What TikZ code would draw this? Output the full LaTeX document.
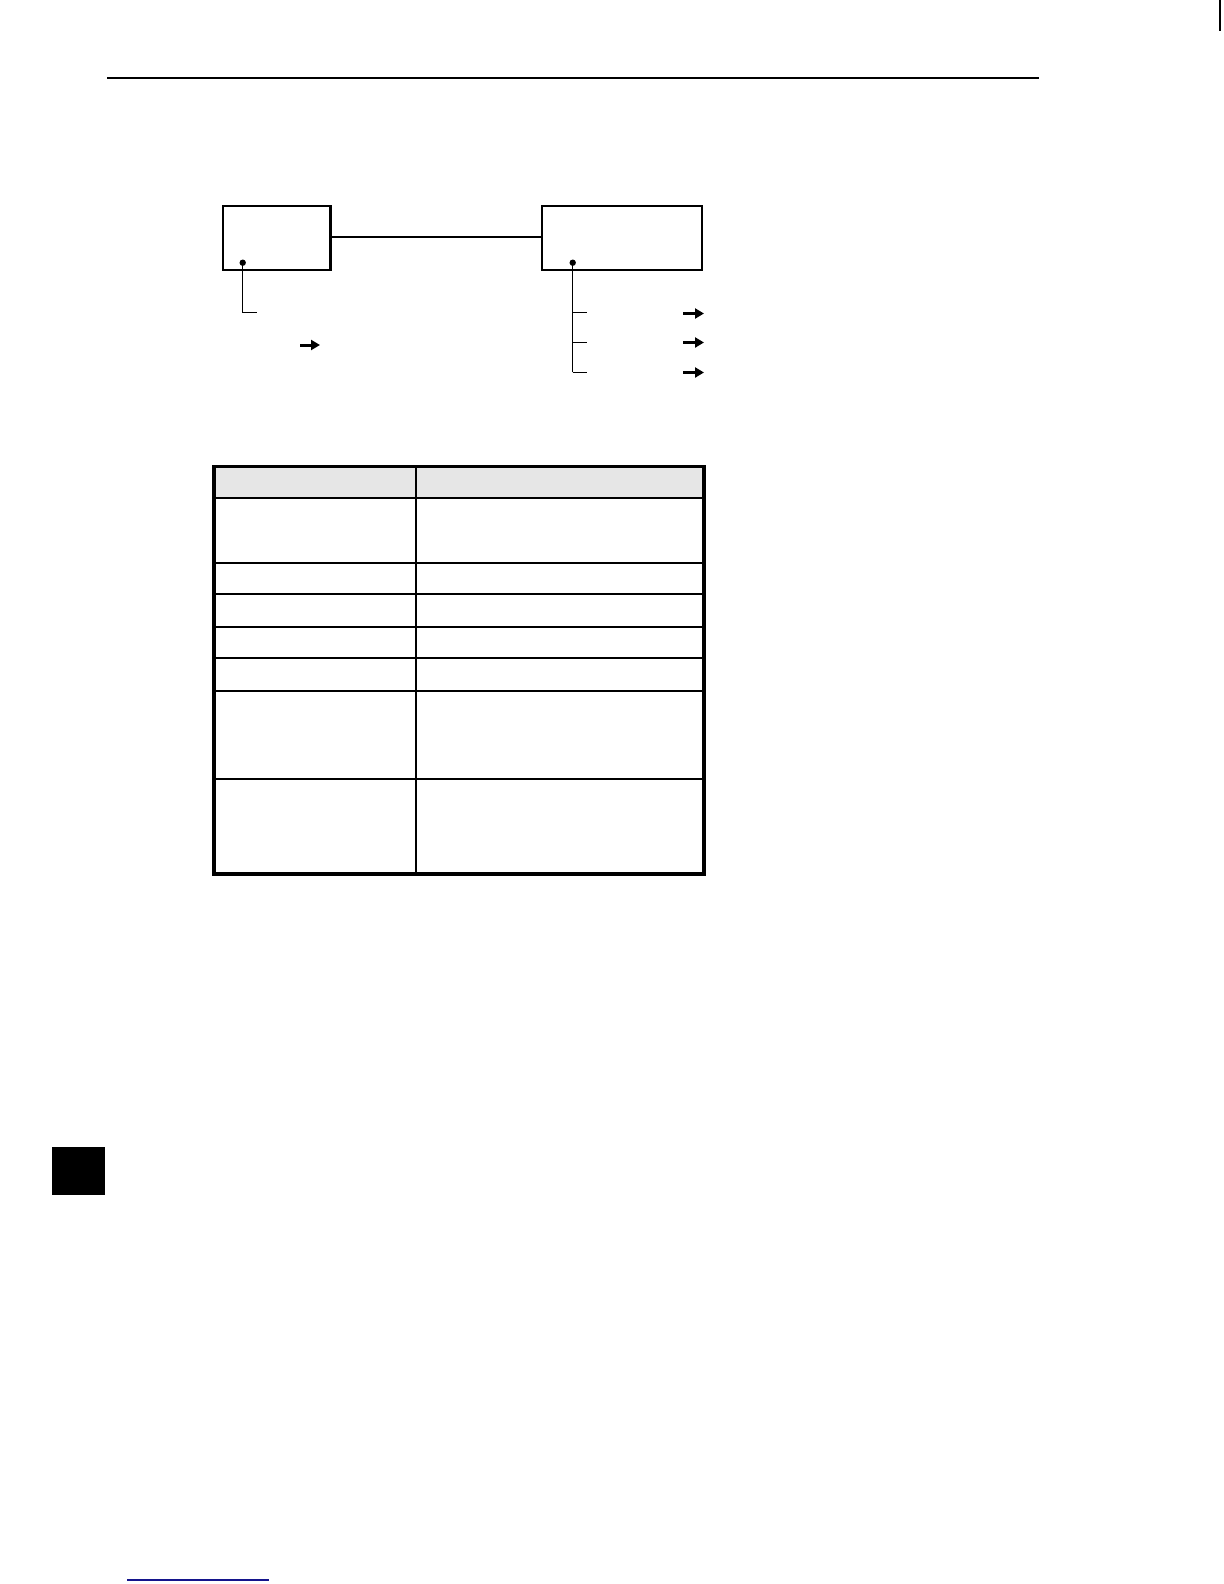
\documentclass[tikz,border=0pt]{standalone}
\usetikzlibrary{arrows.meta}
\definecolor{headgray}{RGB}{230,230,230}
\definecolor{linkblue}{RGB}{20,20,140}
\tikzset{
  box/.style={draw, line width=0.75pt, inner sep=0pt, anchor=north west},
  wire/.style={line width=0.7pt},
  flowarrow/.style={line width=1.5pt, -{Triangle[length=4.5pt,width=5pt]}},
  thickrule/.style={line width=1pt},
  outer/.style={line width=1.6pt},
  thinrule/.style={line width=0.75pt}
}
\begin{document}
\begin{tikzpicture}[x=0.5pt,y=-0.5pt]
\useasboundingbox (0,0) rectangle (1224,1584);
% header rule
\coordinate (hrA) at (107,78); \coordinate (hrB) at (1039,78);
\draw[line width=0.9pt] (hrA) -- (hrB);
\coordinate (tabA) at (1220,0); \coordinate (tabB) at (1220,31);
\draw[line width=0.9pt] (tabA) -- (tabB);
% boxes
\node[box, minimum width=107*0.5pt, minimum height=64*0.5pt] (lbox) at (222,205) {};
\draw[line width=1.2pt] (lbox.north east) -- (lbox.south east);
\node[box, minimum width=160*0.5pt, minimum height=64*0.5pt] (rbox) at (541,205) {};
\draw[wire] (lbox.east |- 0,237) -- (rbox.west |- 0,237);
% left branch
\coordinate (ldot) at (242.7,262.7);
\coordinate (lcorner) at (242.7,312.3);
\coordinate (lend) at (257.3,312.3);
\fill (ldot) circle (1.6pt);
\draw[wire] (ldot) -- (lcorner) -- (lend);
\coordinate (la1) at (300,345); \coordinate (la2) at (320,345);
\draw[flowarrow] (la1) -- (la2);
% right branch
\coordinate (rdot) at (572.7,262.7);
\coordinate (rbot) at (572.7,372.3);
\fill (rdot) circle (1.6pt);
\draw[wire] (rdot) -- (rbot);
\foreach \yy/\nm in {312.3/a,342.3/b,372.3/c}{
  \coordinate (rt\nm1) at (572.7,\yy);
  \coordinate (rt\nm2) at (586.7,\yy);
  \draw[wire] (rt\nm1) -- (rt\nm2);
}
\draw[wire] (rbot) -- (rtc2);
\foreach \yy/\nm in {313.5/a,342.5/b,372.5/c}{
  \coordinate (ra\nm1) at (683,\yy);
  \coordinate (ra\nm2) at (704,\yy);
  \draw[flowarrow] (ra\nm1) -- (ra\nm2);
}
% table
\fill[headgray] (214,466.7) rectangle (704,498.3);
\foreach \yy in {498.3,562.7,594.3,626.7,658.3,690.7}{
  \draw[thickrule] (214,\yy) -- (704,\yy);
}
\draw[thinrule] (214,779) -- (704,779);
\draw[thinrule] (416,466.7) -- (416,874);
\draw[outer] (214,466.7) rectangle (704,874);
% black tab
\fill (52.3,1146.7) rectangle (105,1195);
% bottom link
\coordinate (blA) at (127,1580); \coordinate (blB) at (269,1580);
\draw[linkblue, line width=0.8pt] (blA) -- (blB);
\end{tikzpicture}
\end{document}
